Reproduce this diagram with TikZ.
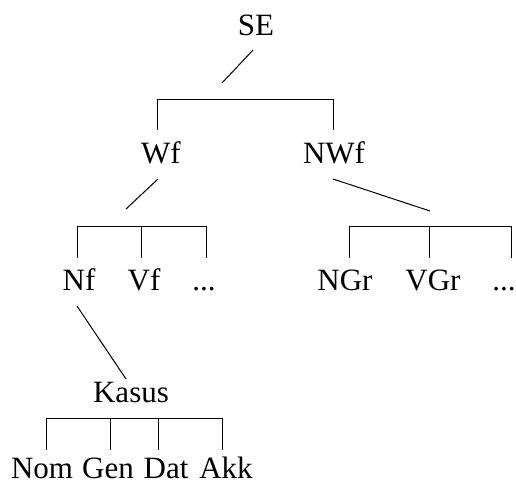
\documentclass[tikz,border=0pt]{standalone}
\usepackage{fontspec}
\setmainfont{Liberation Serif}

\begin{document}
\begin{tikzpicture}[
                        x=1pt, y=-1pt,
                        line width=1pt,
                        every node/.style={anchor=base, inner sep=0pt, font=\fontsize{31}{37}\selectfont}
                    ]
                    \useasboundingbox (0,0) rectangle (516,485);
                    % Labels
                    \node (se) at (256,35) {SE};
                    \node (wf) at (161,163) {Wf};
                    \node (nwf) at (334,163) {NWf};
                    \node (nf) at (79,290) {Nf};
                    \node (vf) at (144,290) {Vf};
                    \node (etc1) at (204,290) {...};
                    \node (ngr) at (345,290) {NGr};
                    \node (vgr) at (433,290) {VGr};
                    \node (etc2) at (504,290) {...};
                    \node (kasus) at (131,402) {Kasus};
                    \node (nom) at (42,478) {Nom};
                    \node (gen) at (108,478) {Gen};
                    \node (dat) at (166,478) {Dat};
                    \node (akk) at (226,478) {Akk};

                    % Bracket feet
                    \coordinate (wf-top) at (157,130);
                    \coordinate (nwf-top) at (333,130);
                    \coordinate (nf-top) at (77,258);
                    \coordinate (vf-top) at (141,258);
                    \coordinate (etc1-top) at (206,258);
                    \coordinate (ngr-top) at (349,258);
                    \coordinate (vgr-top) at (429,258);
                    \coordinate (etc2-top) at (511,258);
                    \coordinate (nom-top) at (46,450);
                    \coordinate (gen-top) at (110,450);
                    \coordinate (dat-top) at (158,450);
                    \coordinate (akk-top) at (222,450);

                    % Brackets
                    \draw (wf-top) -- ++(0,-31) -| (nwf-top);
                    \draw (nf-top) -- ++(0,-32) -| (etc1-top);
                    \draw (vf-top) -- ++(0,-32);
                    \draw (ngr-top) -- ++(0,-32) -| (etc2-top);
                    \draw (vgr-top) -- ++(0,-32);
                    \draw (nom-top) -- ++(0,-32) -| (akk-top);
                    \draw (gen-top) -- ++(0,-32);
                    \draw (dat-top) -- ++(0,-32);

                    % Connections
                    \draw ([shift={(-3,15)}]se.base) -- ++(-31,33);
                    \draw ([shift={(-3,16)}]wf.base) -- ++(-32,30);
                    \draw ([shift={(-1,16)}]nwf.base) -- ++(97,32);
                    \draw ([shift={(-2,16)}]nf.base) -- ++(49,73);
                \end{tikzpicture}
\end{document}
